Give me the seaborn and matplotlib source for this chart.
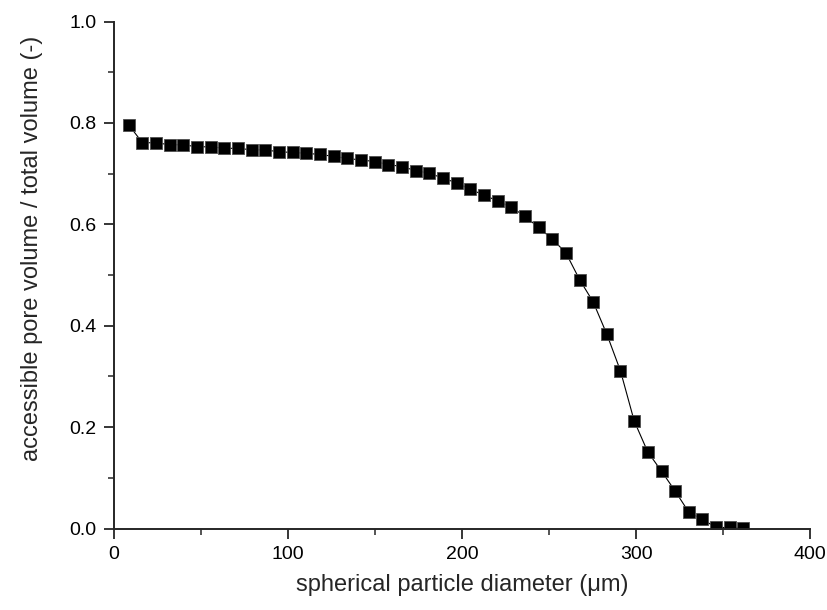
import matplotlib
matplotlib.use("Agg")
import matplotlib.pyplot as plt
import numpy as np
import pandas as pd
import seaborn as sns
from matplotlib.ticker import MultipleLocator

# particle diameter (um) and accessible pore volume fraction
diameter = [
    8.4, 16.3, 24.1, 32.0, 39.8, 47.7, 55.5, 63.4, 71.2, 79.1,
    86.9, 94.8, 102.6, 110.5, 118.3, 126.2, 134.0, 141.9, 149.7, 157.6,
    165.4, 173.3, 181.1, 189.0, 196.8, 204.7, 212.5, 220.4, 228.2, 236.1,
    243.9, 251.8, 259.6, 267.5, 275.3, 283.2, 291.0, 298.9, 306.7, 314.6,
    322.4, 330.3, 338.1, 346.0, 353.8, 361.7,
]
pore_fraction = [
    0.796, 0.761, 0.761, 0.757, 0.757, 0.753, 0.753, 0.750, 0.750, 0.747,
    0.747, 0.743, 0.742, 0.740, 0.738, 0.734, 0.730, 0.727, 0.724, 0.718,
    0.714, 0.706, 0.701, 0.691, 0.682, 0.669, 0.658, 0.646, 0.634, 0.616,
    0.594, 0.571, 0.544, 0.491, 0.447, 0.383, 0.311, 0.212, 0.151, 0.113,
    0.074, 0.032, 0.018, 0.002, 0.002, 0.001,
]

x_label = "spherical particle diameter (\u03bcm)"
y_label = "accessible pore volume / total volume (-)"

df = pd.DataFrame({"diameter": diameter, "fraction": pore_fraction})

sns.set_style("ticks")
plt.rcParams["font.family"] = ["Liberation Sans", "DejaVu Sans"]
plt.rcParams["xtick.direction"] = "out"
plt.rcParams["ytick.direction"] = "out"

fig = plt.figure(figsize=(8.27, 6.10), dpi=100)
ax = fig.add_axes([0.138, 0.1336, 0.8416, 0.831])

sns.lineplot(
    data=df, x="diameter", y="fraction", ax=ax,
    color="black", linewidth=0.8, marker="s", markersize=8.3,
    markerfacecolor="black", markeredgecolor="0.3", markeredgewidth=0.6,
    estimator=None, sort=False,
)

ax.set_xlim(0, 400)
ax.set_ylim(0, 1.0)
ax.xaxis.set_major_locator(MultipleLocator(100))
ax.xaxis.set_minor_locator(MultipleLocator(50))
ax.yaxis.set_major_locator(MultipleLocator(0.2))
ax.yaxis.set_minor_locator(MultipleLocator(0.1))
ax.yaxis.set_major_formatter(plt.FormatStrFormatter("%.1f"))

sns.despine(ax=ax)
for side in ("left", "bottom"):
    ax.spines[side].set_linewidth(1.4)
ax.tick_params(which="major", length=7.2, width=1.1, labelsize=14, pad=5.5, colors="black")
ax.tick_params(which="minor", length=4, width=1.1)

ax.set_xlabel(x_label, fontsize=17, labelpad=8)
ax.set_ylabel(y_label, fontsize=17, labelpad=19, y=0.553)

fig.savefig("out.png", dpi=100)
